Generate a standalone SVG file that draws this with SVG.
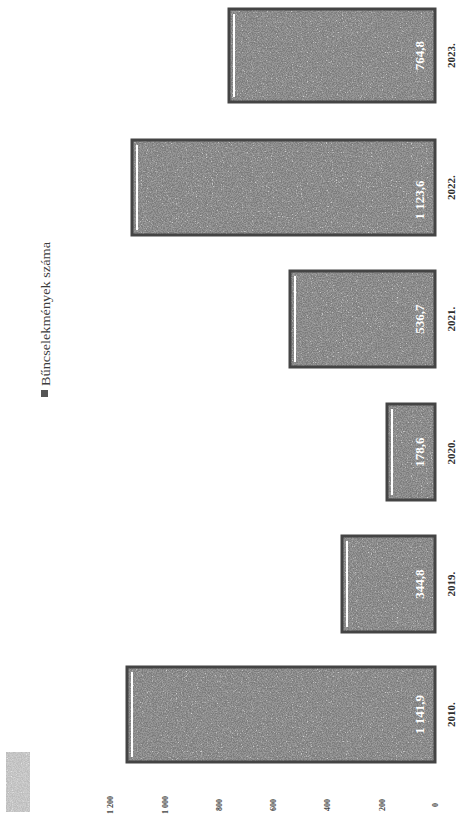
<svg xmlns="http://www.w3.org/2000/svg" width="462" height="821" viewBox="0 0 462 821">
<style>
.bar{fill:#979797;filter:url(#speck)}
.frame{fill:none;stroke:#444444;stroke-width:3}
.hl{stroke:#ffffff;stroke-width:2}
.val{font-family:"Liberation Serif",serif;font-weight:bold;font-size:13px;fill:#ffffff;text-anchor:middle}
.yr{font-family:"Liberation Serif",serif;font-weight:bold;font-size:11px;fill:#2e2e2e;text-anchor:middle}
.tick{font-family:"Liberation Serif",serif;font-weight:bold;font-size:8px;fill:#444444;text-anchor:middle}
.leg{font-family:"Liberation Serif",serif;font-size:13px;fill:#3c3c3c}
</style>
<defs>
<filter id="speck" x="0" y="0" width="1" height="1">
<feTurbulence type="fractalNoise" baseFrequency="0.8" numOctaves="2" seed="7" result="n"/>
<feColorMatrix in="n" type="matrix" values="0 0 0 0 0.2  0 0 0 0 0.2  0 0 0 0 0.2  4 0 0 0 -1.55" result="dark"/>
<feColorMatrix in="n" type="matrix" values="0 0 0 0 0.78  0 0 0 0 0.78  0 0 0 0 0.78  0 -3.2 0 0 1.25" result="light"/>
<feMerge result="m"><feMergeNode in="SourceGraphic"/><feMergeNode in="light"/><feMergeNode in="dark"/></feMerge>
<feComposite in="m" in2="SourceGraphic" operator="in"/>
</filter>
</defs>
<rect width="462" height="821" fill="#ffffff"/>

<g id="legend">
<rect x="41" y="390" width="7" height="7" fill="#555555"/>
<text class="leg" transform="translate(50,386) rotate(-90)" textLength="144" lengthAdjust="spacingAndGlyphs">Bűncselekmények száma</text>
</g>

<g id="axis">
<rect x="6" y="752" width="24" height="60" fill="#9a9a9a" opacity="0.5" filter="url(#speck)"/>
<text class="tick" transform="translate(438,805) rotate(-90)">0</text>
<text class="tick" transform="translate(385,805) rotate(-90)">200</text>
<text class="tick" transform="translate(330,805) rotate(-90)">400</text>
<text class="tick" transform="translate(276,805) rotate(-90)">600</text>
<text class="tick" transform="translate(222,805) rotate(-90)">800</text>
<text class="tick" transform="translate(168,805) rotate(-90)">1 000</text>
<text class="tick" transform="translate(113,805) rotate(-90)">1 200</text>
</g>

<g id="bar-2023">
<rect class="bar" x="229" y="9" width="206" height="93"/>
<rect class="frame" x="229" y="9" width="206" height="93"/>
<line class="hl" x1="234" y1="14" x2="234" y2="97"/>
<text class="val" transform="translate(424,55.5) rotate(-90)">764,8</text>
<text class="yr" transform="translate(455,55.5) rotate(-90)">2023.</text>
</g>

<g id="bar-2022">
<rect class="bar" x="132" y="140" width="303" height="95"/>
<rect class="frame" x="132" y="140" width="303" height="95"/>
<line class="hl" x1="137" y1="145" x2="137" y2="230"/>
<text class="val" transform="translate(424,200) rotate(-90)">1 123,6</text>
<text class="yr" transform="translate(455,187.5) rotate(-90)">2022.</text>
</g>

<g id="bar-2021">
<rect class="bar" x="290" y="271" width="145" height="96"/>
<rect class="frame" x="290" y="271" width="145" height="96"/>
<line class="hl" x1="295" y1="276" x2="295" y2="362"/>
<text class="val" transform="translate(424,319) rotate(-90)">536,7</text>
<text class="yr" transform="translate(455,319) rotate(-90)">2021.</text>
</g>

<g id="bar-2020">
<rect class="bar" x="387" y="404" width="48" height="96"/>
<rect class="frame" x="387" y="404" width="48" height="96"/>
<line class="hl" x1="392" y1="409" x2="392" y2="495"/>
<text class="val" transform="translate(424,452) rotate(-90)">178,6</text>
<text class="yr" transform="translate(455,452) rotate(-90)">2020.</text>
</g>

<g id="bar-2019">
<rect class="bar" x="342" y="536" width="93" height="96"/>
<rect class="frame" x="342" y="536" width="93" height="96"/>
<line class="hl" x1="347" y1="541" x2="347" y2="627"/>
<text class="val" transform="translate(424,584) rotate(-90)">344,8</text>
<text class="yr" transform="translate(455,584) rotate(-90)">2019.</text>
</g>

<g id="bar-2010">
<rect class="bar" x="127" y="667" width="308" height="95"/>
<rect class="frame" x="127" y="667" width="308" height="95"/>
<line class="hl" x1="132" y1="672" x2="132" y2="757"/>
<text class="val" transform="translate(424,714.5) rotate(-90)">1 141,9</text>
<text class="yr" transform="translate(455,714.5) rotate(-90)">2010.</text>
</g>
</svg>
